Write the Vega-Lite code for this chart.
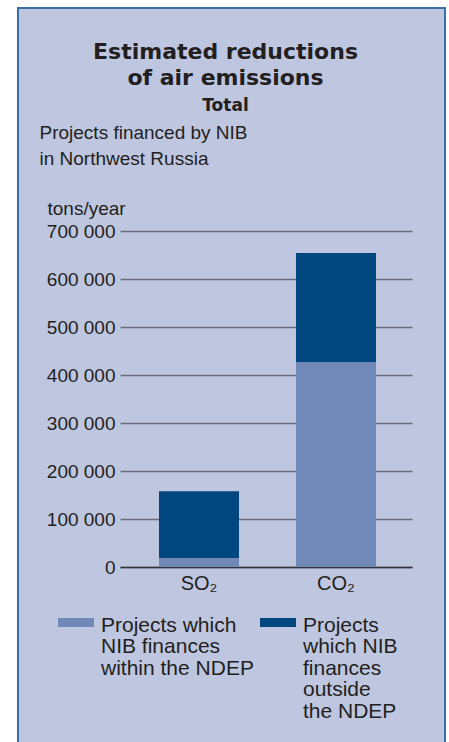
{
  "$schema": "https://vega.github.io/schema/vega-lite/v6.json",
  "autosize": {"type": "none"},
  "width": 427,
  "height": 740,
  "padding": {"left": 18, "top": 8, "right": 4, "bottom": 0},
  "background": "white",
  "view": {"fill": "#bec6e0", "stroke": "#3b6ea3", "strokeWidth": 2},
  "title": {
    "text": ["Estimated reductions", "of air emissions"],
    "subtitle": "Total",
    "anchor": "middle",
    "frame": "group",
    "font": "DejaVu Sans",
    "fontSize": 22,
    "fontWeight": "bold",
    "lineHeight": 26,
    "color": "#231f20",
    "subtitleFont": "DejaVu Sans",
    "subtitleFontSize": 17,
    "subtitleFontWeight": "bold",
    "subtitleColor": "#231f20",
    "subtitlePadding": 8,
    "offset": -107,
    "dx": -6
  },
  "data": {
    "values": [
      {"pollutant": "SO₂", "segment": "Projects which NIB finances within the NDEP", "stack_order": 1, "tons": 19000},
      {"pollutant": "SO₂", "segment": "Projects which NIB finances outside the NDEP", "stack_order": 2, "tons": 139000},
      {"pollutant": "CO₂", "segment": "Projects which NIB finances within the NDEP", "stack_order": 1, "tons": 427000},
      {"pollutant": "CO₂", "segment": "Projects which NIB finances outside the NDEP", "stack_order": 2, "tons": 227000}
    ]
  },
  "mark": {"type": "bar"},
  "encoding": {
    "x": {
      "field": "pollutant",
      "type": "nominal",
      "sort": ["SO₂", "CO₂"],
      "scale": {"range": [102, 394], "paddingInner": 0.416, "paddingOuter": 0.2737, "align": 0.52},
      "axis": {
        "orient": "bottom",
        "offset": -181,
        "grid": false,
        "domain": true,
        "domainColor": "#333338",
        "domainWidth": 1.5,
        "ticks": false,
        "tickSize": 0,
        "labelAngle": 0,
        "labelFont": "Liberation Sans",
        "labelFontSize": 20,
        "labelColor": "#231f20",
        "labelPadding": 6,
        "title": ["Projects financed by NIB", "in Northwest Russia"],
        "titleFont": "Liberation Sans",
        "titleFontSize": 19,
        "titleFontWeight": "normal",
        "titleColor": "#231f20",
        "titleAlign": "left",
        "titleAnchor": "start",
        "titleBaseline": "top",
        "titleLineHeight": 26.5,
        "titleX": 21,
        "titleY": -444
      }
    },
    "y": {
      "field": "tons",
      "type": "quantitative",
      "stack": "zero",
      "scale": {"domain": [0, 700000], "range": [559, 223], "nice": false, "zero": true},
      "axis": {
        "orient": "left",
        "offset": -102,
        "values": [0, 100000, 200000, 300000, 400000, 500000, 600000, 700000],
        "labelExpr": "replace(format(datum.value, ','), ',', ' ')",
        "domain": false,
        "ticks": false,
        "tickSize": 0,
        "grid": true,
        "gridColor": "#6a6c7c",
        "gridWidth": 1.5,
        "gridOpacity": 1,
        "labelFont": "Liberation Sans",
        "labelFontSize": 19,
        "labelColor": "#231f20",
        "labelPadding": 5,
        "title": "tons/year",
        "titleFont": "Liberation Sans",
        "titleFontSize": 19,
        "titleFontWeight": "normal",
        "titleColor": "#231f20",
        "titleAngle": 0,
        "titleAlign": "left",
        "titleBaseline": "top",
        "titleX": -73,
        "titleY": 191.5
      }
    },
    "color": {
      "field": "segment",
      "type": "nominal",
      "scale": {
        "domain": ["Projects which NIB finances within the NDEP", "Projects which NIB finances outside the NDEP"],
        "range": ["#7089b9", "#00467f"]
      },
      "legend": {
        "orient": "none",
        "legendX": 40,
        "legendY": 588.5,
        "direction": "horizontal",
        "title": null,
        "padding": 0,
        "symbolType": "M-1,0.195H1V0.695H-1Z",
        "symbolSize": 1296,
        "symbolStrokeWidth": 0,
        "symbolOpacity": 1,
        "labelFont": "Liberation Sans",
        "labelFontSize": 21,
        "labelColor": "#231f20",
        "labelBaseline": "top",
        "labelOffset": 7,
        "labelLimit": 300,
        "columnPadding": 6,
        "labelExpr": "datum.label == 'Projects which NIB finances within the NDEP' ? ['Projects which', 'NIB finances', 'within the NDEP', '', ''] : ['Projects', 'which NIB', 'finances', 'outside', 'the NDEP']",
        "encode": {"labels": {"update": {"lineHeight": {"value": 21.5}}}},
        "encoding": {"labels": {"update": {"lineHeight": {"value": 21.5}}}}
      }
    },
    "order": {"field": "stack_order", "type": "quantitative"}
  }
}
